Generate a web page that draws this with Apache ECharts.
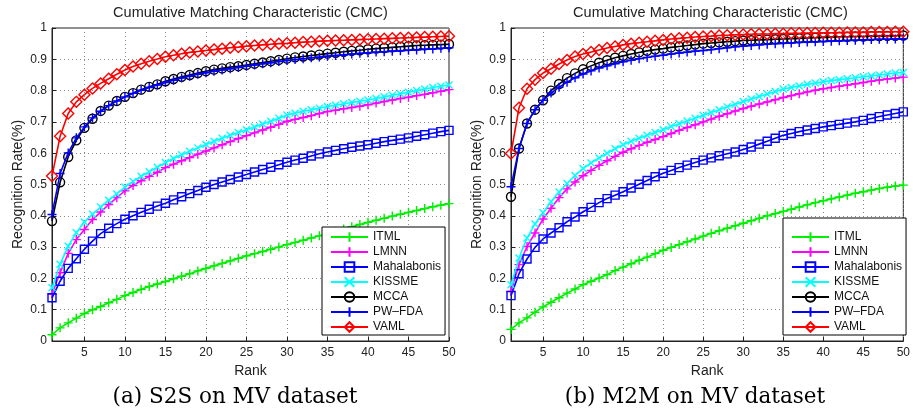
<!DOCTYPE html>
<html><head><meta charset="utf-8">
<script src="https://cdn.jsdelivr.net/npm/echarts@6/dist/echarts.min.js"></script>
<style>html,body{margin:0;padding:0;background:#fff}#c{width:913px;height:414px}</style>
</head><body><div id="c"></div>
<script>
// ---------- data ----------
const ranks = ['1','2','3','4','5','6','7','8','9','10','11','12','13','14','15','16','17','18','19','20','21','22','23','24','25','26','27','28','29','30','31','32','33','34','35','36','37','38','39','40','41','42','43','44','45','46','47','48','49','50'];
const rankTicks = ['5','10','15','20','25','30','35','40','45','50'];
const seriesNames = ['ITML','LMNN','Mahalabonis','KISSME','MCCA','PW\u2013FDA','VAML'];
const chartTitle = 'Cumulative Matching Characteristic (CMC)';
const captions = ['(a) S2S on MV dataset', '(b) M2M on MV dataset'];

// (a) S2S
const ITML_a = [0.020,0.042,0.058,0.073,0.088,0.100,0.110,0.122,0.133,0.145,0.155,0.165,0.174,0.182,0.190,0.199,0.207,0.215,0.224,0.232,0.240,0.248,0.256,0.264,0.272,0.279,0.286,0.293,0.300,0.308,0.315,0.322,0.329,0.336,0.344,0.351,0.358,0.365,0.372,0.379,0.386,0.392,0.399,0.405,0.411,0.417,0.423,0.429,0.434,0.439];
const LMNN_a = [0.150,0.218,0.280,0.324,0.356,0.388,0.412,0.436,0.458,0.480,0.497,0.512,0.526,0.539,0.554,0.565,0.576,0.586,0.597,0.607,0.617,0.627,0.637,0.647,0.656,0.665,0.674,0.683,0.692,0.702,0.708,0.714,0.720,0.727,0.733,0.737,0.742,0.746,0.750,0.755,0.760,0.765,0.770,0.775,0.779,0.784,0.788,0.793,0.798,0.803];
const MAHA_a = [0.138,0.191,0.232,0.263,0.293,0.319,0.343,0.360,0.375,0.389,0.400,0.411,0.421,0.431,0.440,0.451,0.461,0.471,0.481,0.491,0.500,0.508,0.516,0.524,0.532,0.540,0.548,0.555,0.563,0.571,0.578,0.584,0.591,0.598,0.604,0.609,0.614,0.619,0.623,0.627,0.632,0.637,0.641,0.645,0.649,0.654,0.659,0.664,0.669,0.673];
const KISSME_a = [0.170,0.245,0.303,0.346,0.380,0.405,0.428,0.450,0.470,0.492,0.510,0.526,0.541,0.555,0.570,0.583,0.595,0.606,0.617,0.628,0.638,0.648,0.657,0.666,0.675,0.684,0.693,0.702,0.712,0.722,0.728,0.734,0.739,0.744,0.749,0.753,0.758,0.762,0.766,0.770,0.775,0.780,0.785,0.790,0.795,0.800,0.805,0.810,0.814,0.818];
const MCCA_a = [0.383,0.507,0.588,0.641,0.681,0.710,0.735,0.752,0.767,0.780,0.792,0.803,0.812,0.820,0.830,0.837,0.844,0.850,0.856,0.862,0.867,0.871,0.875,0.878,0.882,0.886,0.890,0.894,0.898,0.902,0.906,0.909,0.912,0.915,0.918,0.921,0.924,0.927,0.929,0.932,0.934,0.936,0.938,0.940,0.942,0.944,0.945,0.946,0.947,0.948];
const PWFDA_a = [0.404,0.535,0.601,0.649,0.684,0.713,0.734,0.752,0.767,0.780,0.791,0.801,0.810,0.818,0.826,0.833,0.840,0.846,0.852,0.857,0.862,0.866,0.870,0.874,0.878,0.882,0.886,0.889,0.893,0.896,0.899,0.902,0.905,0.907,0.910,0.912,0.914,0.917,0.919,0.921,0.923,0.924,0.926,0.927,0.929,0.930,0.932,0.933,0.935,0.937];
const VAML_a = [0.527,0.654,0.727,0.764,0.787,0.807,0.823,0.838,0.852,0.866,0.877,0.886,0.894,0.901,0.908,0.913,0.918,0.922,0.925,0.928,0.931,0.934,0.937,0.939,0.942,0.944,0.946,0.948,0.950,0.951,0.953,0.955,0.956,0.958,0.959,0.960,0.961,0.962,0.963,0.964,0.965,0.966,0.967,0.968,0.969,0.970,0.971,0.972,0.973,0.974];

// (b) M2M
const ITML_b = [0.037,0.058,0.074,0.092,0.109,0.124,0.138,0.153,0.166,0.180,0.191,0.201,0.212,0.225,0.236,0.247,0.258,0.268,0.279,0.290,0.299,0.308,0.317,0.326,0.335,0.344,0.352,0.360,0.368,0.376,0.384,0.392,0.400,0.407,0.414,0.421,0.428,0.435,0.442,0.448,0.454,0.460,0.466,0.472,0.477,0.482,0.487,0.491,0.495,0.498];
const LMNN_b = [0.159,0.244,0.302,0.345,0.390,0.424,0.458,0.486,0.508,0.528,0.545,0.561,0.576,0.590,0.603,0.614,0.625,0.635,0.644,0.653,0.663,0.673,0.682,0.691,0.700,0.709,0.718,0.726,0.735,0.743,0.750,0.757,0.764,0.771,0.778,0.784,0.790,0.796,0.801,0.806,0.810,0.814,0.818,0.822,0.826,0.830,0.834,0.837,0.840,0.843];
const MAHA_b = [0.145,0.215,0.262,0.299,0.326,0.345,0.362,0.381,0.396,0.413,0.427,0.442,0.455,0.466,0.477,0.489,0.501,0.513,0.525,0.536,0.545,0.554,0.562,0.570,0.578,0.585,0.592,0.598,0.604,0.612,0.620,0.629,0.638,0.648,0.657,0.663,0.669,0.674,0.679,0.684,0.688,0.692,0.696,0.700,0.705,0.711,0.717,0.722,0.727,0.732];
const KISSME_b = [0.180,0.265,0.329,0.374,0.410,0.445,0.476,0.503,0.529,0.551,0.569,0.585,0.600,0.614,0.627,0.638,0.648,0.657,0.666,0.675,0.685,0.694,0.703,0.712,0.721,0.730,0.739,0.748,0.756,0.765,0.773,0.781,0.789,0.797,0.805,0.810,0.815,0.820,0.824,0.828,0.832,0.835,0.838,0.841,0.844,0.847,0.850,0.853,0.856,0.858];
const MCCA_b = [0.461,0.615,0.695,0.739,0.769,0.800,0.821,0.840,0.855,0.868,0.879,0.889,0.897,0.905,0.911,0.917,0.922,0.927,0.931,0.934,0.938,0.941,0.944,0.947,0.950,0.952,0.954,0.956,0.958,0.960,0.961,0.962,0.963,0.964,0.965,0.966,0.967,0.968,0.969,0.970,0.971,0.972,0.972,0.973,0.973,0.974,0.974,0.975,0.975,0.976];
const PWFDA_b = [0.493,0.615,0.695,0.739,0.769,0.792,0.811,0.827,0.841,0.853,0.863,0.872,0.879,0.886,0.892,0.897,0.902,0.906,0.910,0.913,0.917,0.920,0.923,0.926,0.928,0.931,0.934,0.937,0.940,0.942,0.944,0.946,0.948,0.950,0.951,0.952,0.954,0.955,0.956,0.957,0.958,0.959,0.960,0.961,0.962,0.963,0.964,0.964,0.965,0.966];
const VAML_b = [0.599,0.745,0.806,0.835,0.856,0.870,0.885,0.898,0.909,0.917,0.923,0.930,0.936,0.941,0.946,0.950,0.953,0.956,0.959,0.962,0.965,0.967,0.969,0.971,0.973,0.974,0.976,0.977,0.978,0.979,0.980,0.981,0.981,0.982,0.982,0.983,0.983,0.984,0.984,0.985,0.985,0.985,0.986,0.986,0.986,0.987,0.987,0.987,0.988,0.988];

const dataA = [ITML_a, LMNN_a, MAHA_a, KISSME_a, MCCA_a, PWFDA_a, VAML_a];
const dataB = [ITML_b, LMNN_b, MAHA_b, KISSME_b, MCCA_b, PWFDA_b, VAML_b];

// ---------- styles ----------
const FONT = '"Liberation Sans", Arial, Helvetica, sans-serif';
const SERIF = '"DejaVu Serif", "Liberation Serif", serif';
const PLUS = 'path://M5,0L5,10M0,5L10,5';
const CROSS = 'path://M0,0L10,10M0,10L10,0';
const styles = [
  {color:'#00ee00', symbol:PLUS, size:9},
  {color:'#ff00ff', symbol:PLUS, size:9},
  {color:'#0000ff', symbol:'rect', size:8},
  {color:'#00ffff', symbol:CROSS, size:7},
  {color:'#000000', symbol:'circle', size:9},
  {color:'#0000ff', symbol:PLUS, size:9},
  {color:'#ff0000', symbol:'diamond', size:11}
];

function makeSeries(idx, arrs) {
  return arrs.map((arr, i) => ({
    type:'line', name: seriesNames[i], xAxisIndex: idx, yAxisIndex: idx,
    data: arr, symbol: styles[i].symbol, symbolSize: styles[i].size,
    showSymbol: true, showAllSymbol: true,
    lineStyle: {color: styles[i].color, width: 1.6},
    itemStyle: {color: 'rgba(0,0,0,0)', borderColor: styles[i].color, borderWidth: 1.4},
    emphasis: {disabled: true}, z: 2 + i
  }));
}

const grids = [
  {left: 52, top: 28, width: 397, height: 313},
  {left: 511, top: 28, width: 399, height: 313}
];

function xAx(i) {
  return {
    type:'category', gridIndex:i, data: ranks, boundaryGap:false,
    name:'Rank', nameLocation:'middle', nameGap:20,
    nameTextStyle:{fontFamily:FONT, fontSize:14, color:'#222'},
    axisLine:{show:true, lineStyle:{color:'#222', width:1}},
    axisTick:{show:true, inside:true, length:4, interval:(k,v)=>rankTicks.indexOf(v)>=0, lineStyle:{color:'#222'}},
    axisLabel:{show:true, margin:6, interval:(k,v)=>rankTicks.indexOf(v)>=0, fontFamily:FONT, fontSize:12, color:'#222'},
    splitLine:{show:true, interval:(k,v)=>rankTicks.indexOf(v)>=0, lineStyle:{color:'#8a8a8a', type:[1,3], width:1}}
  };
}
function yAx(i) {
  return {
    type:'value', gridIndex:i, min:0, max:1, interval:0.1,
    name:'Recognition Rate(%)', nameLocation:'middle', nameGap:27,
    nameTextStyle:{fontFamily:FONT, fontSize:14, color:'#222'},
    axisLine:{show:true, lineStyle:{color:'#222', width:1}},
    axisTick:{show:true, inside:true, length:4, lineStyle:{color:'#222'}},
    axisLabel:{margin:5, fontFamily:FONT, fontSize:12, color:'#222'},
    splitLine:{show:true, lineStyle:{color:'#8a8a8a', type:[1,3], width:1}}
  };
}

function legend(left, top, padTop) {
  return {
    data: seriesNames, orient:'vertical', left:left, top:top,
    backgroundColor:'#fff', borderColor:'#000', borderWidth:1,
    padding:[padTop, 4, 2, 8], itemGap:3, itemWidth:37, itemHeight:12,
    selectedMode:false,
    textStyle:{fontFamily:FONT, fontSize:12, color:'#111'}
  };
}

const option = {
  animation:false,
  backgroundColor:'#fff',
  grid: grids.map(g => Object.assign({show:true, borderColor:'#222', borderWidth:1, backgroundColor:'rgba(0,0,0,0)'}, g)),
  xAxis:[xAx(0), xAx(1)],
  yAxis:[yAx(0), yAx(1)],
  legend:[legend(322, 227, 4), legend(783, 218, 13)],
  series: makeSeries(0, dataA).concat(makeSeries(1, dataB)),
  graphic:[
    {type:'text', x:250.5, y:13, style:{text:chartTitle, font:'14.5px '+FONT, fill:'#222', align:'center', verticalAlign:'middle'}},
    {type:'text', x:710.5, y:13, style:{text:chartTitle, font:'14.5px '+FONT, fill:'#222', align:'center', verticalAlign:'middle'}},
    {type:'text', x:235, y:397, style:{text:captions[0], font:'21.5px '+SERIF, fill:'#000', align:'center', verticalAlign:'middle'}},
    {type:'text', x:695, y:397, style:{text:captions[1], font:'21.5px '+SERIF, fill:'#000', align:'center', verticalAlign:'middle'}}
  ]
};

const chart = echarts.init(document.getElementById('c'), null, {renderer:'canvas'});
chart.setOption(option);
</script></body></html>
